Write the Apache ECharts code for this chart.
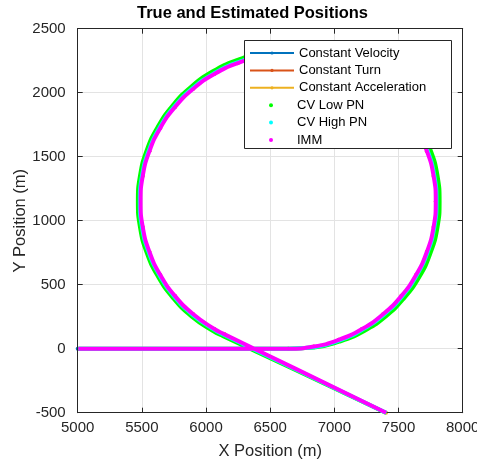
<!DOCTYPE html>
<html><head><meta charset="utf-8">
<script src="https://cdn.jsdelivr.net/npm/echarts@6/dist/echarts.min.js"></script>
<style>html,body{margin:0;padding:0;background:#fff}#c{width:477px;height:459px}</style>
</head><body><div id="c"></div>
<script>
// ---- data (metres) ----
var xTicks = [5000, 5500, 6000, 6500, 7000, 7500, 8000];
var yTicks = [-500, 0, 500, 1000, 1500, 2000, 2500];

// True trajectory segments
var cvX = [5000, 6640];
var cvY = [0, 0];
var ctX = [6640,6840,7033,7215,7379,7521,7636,7721,7773,7790,7773,7721,7636,7521,7379,7215,7033,6840,6640,6440,6247,6065,5901,5759,5644,5559,5507,5490,5507,5559,5644,5759,5901,6065,6141];
var ctY = [0,17,69,154,269,411,575,757,950,1150,1350,1543,1725,1889,2031,2146,2231,2283,2300,2283,2231,2146,2031,1889,1725,1543,1350,1150,950,757,575,411,269,154,114];
var caX = [6141, 7403];
var caY = [114, -500];

// Estimates
var lowPnX = [5005,6640,6841,7038,7226,7396,7542,7662,7749,7803,7820,7803,7749,7660,7542,7396,7228,7042,6844,6640,6436,6239,6053,5886,5742,5625,5538,5486,5469,5486,5538,5625,5742,5887,6055,6133,6700,7405];
var lowPnY = [0,0,9,55,135,249,393,560,747,945,1150,1355,1553,1739,1907,2051,2169,2254,2308,2325,2308,2254,2167,2049,1903,1736,1551,1354,1150,946,749,564,397,252,137,98,-168,-502];
var highPnX = [5005,6640,6841,7035,7218,7383,7526,7641,7727,7779,7796,7779,7727,7641,7526,7383,7218,7035,6841,6640,6439,6245,6062,5897,5754,5639,5553,5501,5484,5501,5553,5639,5754,5897,6062,6138,6700,7404];
var highPnY = [0,0,11,63,149,264,407,572,755,949,1150,1351,1545,1728,1893,2036,2151,2237,2289,2306,2289,2237,2151,2036,1893,1728,1545,1351,1150,949,755,572,407,264,149,109,-162,-501];
var immX = [5005,6640,6840,7033,7215,7379,7521,7636,7721,7773,7790,7773,7721,7636,7521,7379,7215,7033,6840,6640,6440,6247,6065,5901,5759,5644,5559,5507,5490,5507,5559,5644,5759,5901,6065,6141,6700,7403];
var immY = [0,0,17,69,154,269,411,575,757,950,1150,1350,1543,1725,1889,2031,2146,2231,2283,2300,2283,2231,2146,2031,1889,1725,1543,1350,1150,950,757,575,411,269,154,114,-158,-500];

var names = ['Constant Velocity','Constant Turn','Constant Acceleration','CV Low PN','CV High PN','IMM'];
var colors = ['#0072BD','#D95319','#EDB120','#00FF00','#00FFFF','#FF00FF'];

function pairs(xs, ys){ var o=[]; for (var i=0;i<xs.length;i++) o.push([xs[i], ys[i]]); return o; }

var FONT = '"Liberation Sans", Arial, Helvetica, sans-serif';
var AX = '#262626';

function axisBase(isX, main){
  var t = isX ? xTicks : yTicks;
  return {
    type: 'value',
    min: t[0], max: t[t.length-1], interval: t[1]-t[0],
    position: isX ? (main ? 'bottom' : 'top') : (main ? 'left' : 'right'),
    axisLine: { show: true, onZero: false, lineStyle: { color: AX, width: 1 } },
    axisTick: { show: true, inside: true, length: 5, lineStyle: { color: AX, width: 1 } },
    axisLabel: { show: main, fontSize: 15, color: AX, fontFamily: FONT, margin: isX ? 8 : 12,
                 showMinLabel: true, showMaxLabel: true, hideOverlap: false,
                 formatter: function(v){ return String(v); } },
    splitLine: { show: main, lineStyle: { color: '#e3e3e3', width: 1 } },
    name: main ? (isX ? 'X Position (m)' : 'Y Position (m)') : '',
    nameLocation: 'middle',
    nameMoveOverlap: false,
    nameGap: isX ? 30 : 49,
    nameTextStyle: { fontSize: 16.5, color: AX, fontFamily: FONT },
    z: 3
  };
}

function truthSeries(i, xs, ys){
  return { name: names[i], type: 'line', data: pairs(xs, ys), symbol: 'circle', symbolSize: 4,
           showSymbol: true, smooth: 0.5, color: colors[i], lineStyle: { color: colors[i], width: 1.2 },
           itemStyle: { color: colors[i] }, xAxisIndex: 0, yAxisIndex: 0, animation: false, z: 2 };
}
function estSeries(i, xs, ys, z){
  return { name: names[i], type: 'line', data: pairs(xs, ys), symbol: 'none', showSymbol: false,
           smooth: 0.5, color: colors[i], lineStyle: { color: colors[i], width: 4 }, itemStyle: { color: colors[i] },
           xAxisIndex: 0, yAxisIndex: 0, animation: false, z: z };
}

var chart = echarts.init(document.getElementById('c'), null, { renderer: 'canvas' });
chart.setOption({
  animation: false,
  backgroundColor: '#fff',
  textStyle: { fontFamily: FONT },
  title: { text: 'True and Estimated Positions', left: 137, top: 5, padding: 0,
           textStyle: { fontSize: 16.5, fontWeight: 'bold', color: '#000', fontFamily: FONT } },
  grid: { left: 77.7, right: 14.3, top: 28.7, bottom: 46.3, containLabel: false, outerBoundsMode: 'none' },
  xAxis: [axisBase(true, true), axisBase(true, false)],
  yAxis: [axisBase(false, true), axisBase(false, false)],
  graphic: [{ type: 'rect', shape: { x: 244.5, y: 40.5, width: 207, height: 108 }, z: 90, zlevel: 0,
              style: { fill: '#fff', stroke: AX, lineWidth: 1 } }],
  legend: [
    { data: names.slice(0,3), orient: 'vertical', left: 249, top: 46, padding: 0,
      itemWidth: 44, itemHeight: 4, itemGap: 3.4, selectedMode: false, z: 100,
      textStyle: { fontSize: 13, color: '#000', fontFamily: FONT, lineHeight: 14 } },
    { data: names.slice(3).map(function(n){ return { name: n, icon: 'circle' }; }),
      orient: 'vertical', left: 269, top: 98.2, padding: 0,
      itemWidth: 4, itemHeight: 4, itemGap: 3.4, selectedMode: false, z: 100,
      textStyle: { fontSize: 13, color: '#000', fontFamily: FONT, lineHeight: 14, padding: [0,0,0,19] } }
  ],
  series: [
    truthSeries(0, cvX, cvY),
    truthSeries(1, ctX, ctY),
    truthSeries(2, caX, caY),
    estSeries(3, lowPnX, lowPnY, 4),
    estSeries(4, highPnX, highPnY, 5),
    estSeries(5, immX, immY, 6)
  ]
});
</script></body></html>
